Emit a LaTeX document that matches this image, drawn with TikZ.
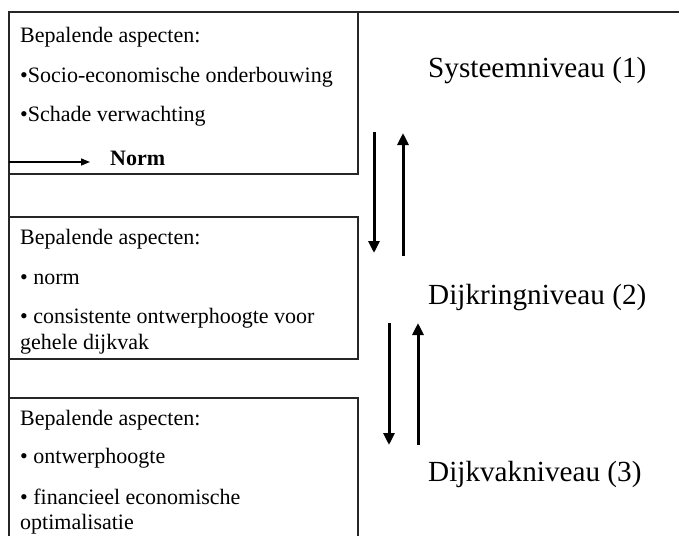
\documentclass[tikz,border=0pt]{standalone}
\usepackage{fontspec}
\setmainfont{Liberation Serif}
\usetikzlibrary{arrows.meta}
\begin{document}
\begin{tikzpicture}[x=1pt,y=-1pt,
  frame/.style={line width=1.8pt, draw=black!85},
  txt/.style={anchor=base west, inner sep=0pt, font=\fontsize{22}{26}\selectfont},
  lvl/.style={anchor=base west, inner sep=0pt, font=\fontsize{29.2}{34}\selectfont},
  varr/.style={line width=3pt, -{Triangle[length=12pt,width=11pt]}},
  narr/.style={line width=1.5pt, -{Triangle[length=9pt,width=7pt]}}]
\useasboundingbox (0,0) rectangle (679,536);
% frame
\coordinate (tl) at (9,12);
\coordinate (tr) at (679,12);
\coordinate (bl) at (9,536);
\draw[frame] (tr) -- (tl) -- (bl);
% box 1
\draw[frame] (tl) rectangle (358,174);
% box 2
\draw[frame] (9,217) rectangle (358,359);
% box 3
\draw[frame] (9,536) -- (9,398) -- (358,398) -- (358,536);
% box 1 text
\node[txt] (b1a) at (20,42) {Bepalende aspecten:};
\node[txt] (b1b) at (20,82) {•Socio-economische onderbouwing};
\node[txt] (b1c) at (20,121) {•Schade verwachting};
\node[txt, font=\fontsize{22}{26}\selectfont\bfseries] (norm) at (110,165) {Norm};
\coordinate (n0) at (9,162);
\draw[narr, shorten >=20pt] (n0) -- (n0 -| norm.west);
% box 2 text
\node[txt] (b2a) at (20,244) {Bepalende aspecten:};
\node[txt] (b2b) at (20,284) {• norm};
\node[txt] (b2c) at (20,323) {• consistente ontwerphoogte voor};
\node[txt] (b2d) at (20,349) {gehele dijkvak};
% box 3 text
\node[txt] (b3a) at (20,425) {Bepalende aspecten:};
\node[txt] (b3b) at (20,463) {• ontwerphoogte};
\node[txt] (b3c) at (20,504) {• financieel economische};
\node[txt] (b3d) at (20,529) {optimalisatie};
% level labels
\node[lvl] (l1) at (428,77) {Systeemniveau (1)};
\node[lvl] (l2) at (428,304) {Dijkringniveau (2)};
\node[lvl] (l3) at (428,481) {Dijkvakniveau (3)};
% arrows between levels
\coordinate (d1s) at (374,132); \coordinate (d1e) at (374,253);
\coordinate (u1s) at (403,256); \coordinate (u1e) at (403,133);
\coordinate (d2s) at (389,323); \coordinate (d2e) at (389,445);
\coordinate (u2s) at (418,445); \coordinate (u2e) at (418,323);
\draw[varr] (d1s) -- (d1e);
\draw[varr] (u1s) -- (u1e);
\draw[varr] (d2s) -- (d2e);
\draw[varr] (u2s) -- (u2e);
\end{tikzpicture}
\end{document}
